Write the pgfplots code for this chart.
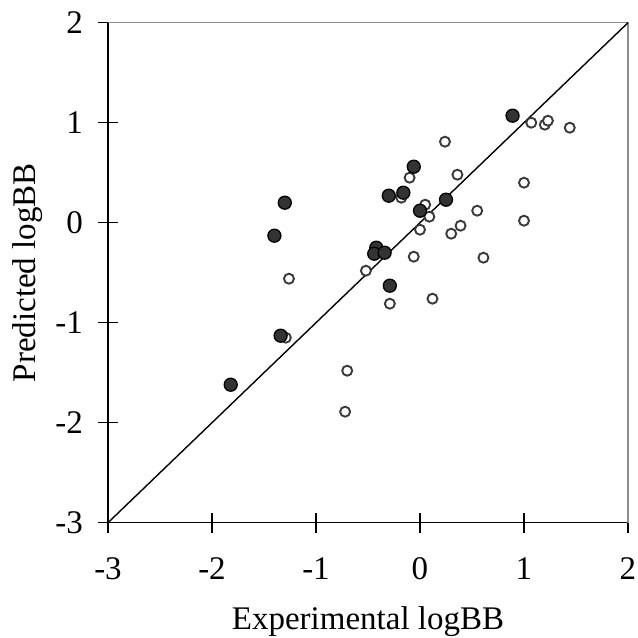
\documentclass[border=0pt]{standalone}
\usepackage{fontspec}
\setmainfont{Liberation Serif}
\usepackage{pgfplots}
\pgfplotsset{compat=1.18}
\definecolor{dotfill}{HTML}{333333}
\definecolor{ringcol}{HTML}{3A3A3A}
\definecolor{framegray}{HTML}{8C8C8C}

\begin{document}
\begin{tikzpicture}[x=1pt,y=1pt]
\begin{axis}[
    at={(108pt,115.3pt)}, anchor=south west,
    width=520pt, height=500pt, scale only axis,
    xmin=-3, xmax=2, ymin=-3, ymax=2,
    xtick={-3,-2,-1,0,1,2}, ytick={-3,-2,-1,0,1,2},
    xticklabels={-3,-2,-1,0,1,2}, yticklabels={-3,-2,-1,0,1,2},
    axis x line*=bottom, axis y line*=left,
    axis line style={black, line width=1.3pt, -},
    tick align=center, major tick length=20pt,
    tick style={black, line width=1.2pt},
    font=\fontsize{33}{39}\selectfont,
    xticklabel style={anchor=base, inner sep=0pt, yshift=-47pt},
    yticklabel style={anchor=east, inner sep=0pt, xshift=-15pt},
    xlabel={Experimental logBB}, ylabel={Predicted logBB},
    xlabel style={at={(axis description cs:0.5,-0.214)}, anchor=base},
    ylabel style={at={(axis description cs:-0.1385,0.5)}, anchor=base},
    clip=false,
]
\draw[framegray, line width=1.3pt] (rel axis cs:0,1) -- (rel axis cs:1,1) -- (rel axis cs:1,0);

% y = x reference line
\addplot[black, line width=1.4pt] coordinates {(-3,-3) (2,2)};

% open circles
\addplot[only marks, mark=*, mark size=5pt,
    mark options={fill=white, draw=ringcol, line width=1.9pt}] coordinates {
    (1.07,1.00) (1.20,0.98) (1.23,1.02) (1.44,0.95)
    (0.24,0.81) (0.36,0.48) (-0.10,0.45) (-0.18,0.25)
    (1.00,0.40) (0.05,0.18) (0.09,0.06) (0.55,0.12)
    (1.00,0.02) (0.39,-0.03) (0.00,-0.07) (0.30,-0.11)
    (-0.06,-0.34) (0.61,-0.35) (-0.52,-0.48) (-1.26,-0.56)
    (-0.29,-0.81) (0.12,-0.76) (-1.29,-1.15) (-0.70,-1.48)
    (-0.72,-1.89)
};

% filled circles
\addplot[only marks, mark=*, mark size=6.5pt,
    mark options={fill=dotfill, draw=black, line width=1.3pt}] coordinates {
    (0.89,1.07) (-0.06,0.56) (-0.16,0.30) (-0.30,0.27)
    (0.25,0.23) (0.00,0.12) (-1.30,0.20) (-1.40,-0.13)
    (-0.42,-0.25) (-0.44,-0.31) (-0.34,-0.30) (-0.29,-0.63)
    (-1.34,-1.13) (-1.82,-1.62)
};
\end{axis}
\pgfresetboundingbox
\path[use as bounding box] (0,0) rectangle (638,638);
\end{tikzpicture}
\end{document}
